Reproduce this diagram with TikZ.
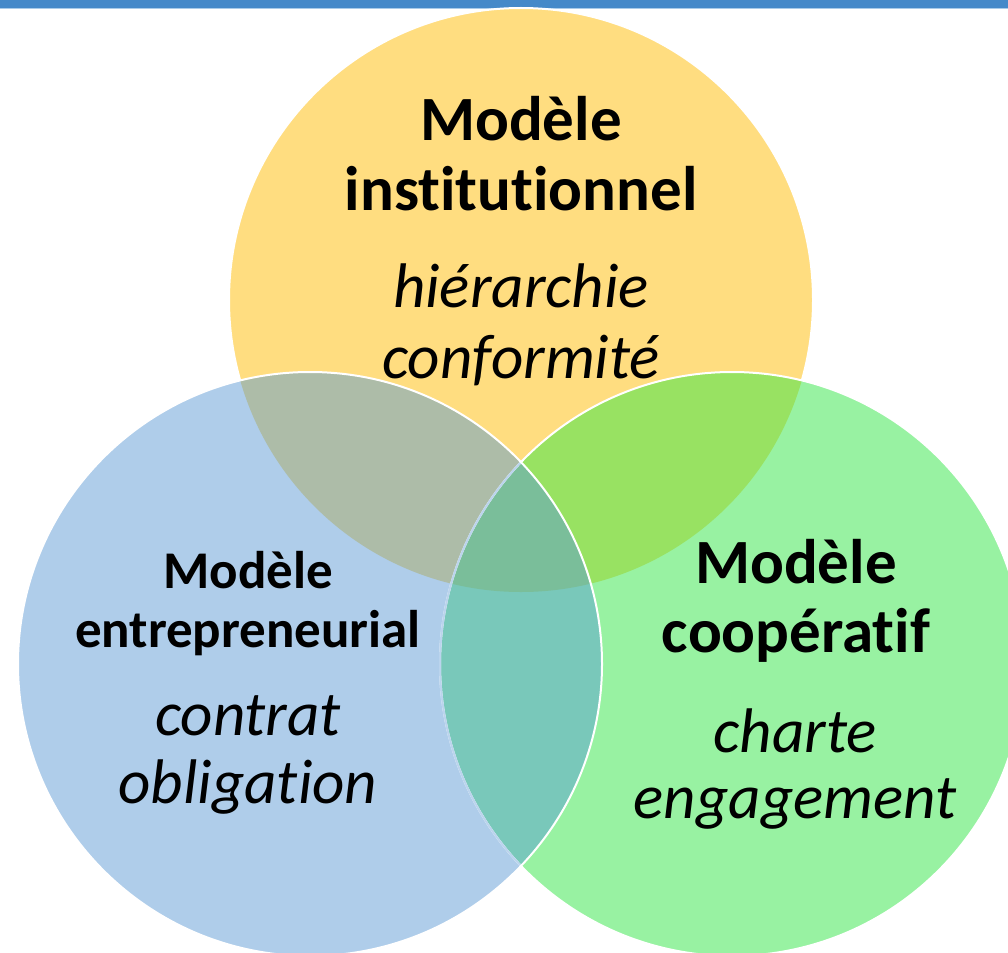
\documentclass[tikz,border=0pt]{standalone}
\usepackage{fontspec}
\setmainfont{Carlito}[Ligatures={NoCommon,NoContextual}]
\definecolor{barblue}{HTML}{4589C9}
\definecolor{barline}{HTML}{A9CBE9}
\definecolor{inst}{HTML}{FFDD80}
\definecolor{entr}{HTML}{AFCDEA}
\definecolor{coop}{HTML}{98F2A2}
\definecolor{instentr}{HTML}{ADBCA8}
\definecolor{instcoop}{HTML}{98E262}
\definecolor{entrcoop}{HTML}{79C8BA}
\definecolor{tous}{HTML}{7ABE9A}

\begin{document}
\begin{tikzpicture}[x=1pt,y=-1pt,
    titre/.style={anchor=base, inner sep=0pt, font=\bfseries\fontsize{63}{70}\selectfont},
    petittitre/.style={anchor=base, inner sep=0pt, font=\bfseries\fontsize{53}{60}\selectfont},
    motcle/.style={anchor=base, inner sep=0pt, font=\itshape\fontsize{63}{70}\selectfont},
    bord/.style={draw=white, line width=2pt}]
\useasboundingbox (0,0) rectangle (1008,952);

% bandeau du haut
\fill[barblue] (0,0) rectangle (1008,8);
\fill[barline] (0,8) rectangle (1008,9.5);

% les trois cercles
\fill[inst, bord] (521,300) circle[radius=292pt];
\fill[entr] (310,664) circle[radius=292pt];
\fill[coop] (732,664) circle[radius=292pt];

% intersections
\begin{scope}
  \clip (521,300) circle[radius=292pt];
  \fill[instentr] (310,664) circle[radius=292pt];
  \fill[instcoop] (732,664) circle[radius=292pt];
\end{scope}
\begin{scope}
  \clip (310,664) circle[radius=292pt];
  \fill[entrcoop] (732,664) circle[radius=292pt];
  \clip (732,664) circle[radius=292pt];
  \fill[tous] (521,300) circle[radius=292pt];
\end{scope}

% contours
\draw[bord] (732,664) circle[radius=292pt];
\begin{scope}
  \clip (310,664) circle[radius=292pt];
  \draw[entr!85!white, line width=2pt] (732,664) circle[radius=292pt];
\end{scope}
\draw[bord] (310,664) circle[radius=292pt];

% Modele institutionnel
\node[titre] (inst1) at (521,141) {Modèle};
\node[titre] (inst2) at (521,210) {institutionnel};
\node[motcle] (inst3) at (521,307) {hiérarchie};
\node[motcle] (inst4) at (521,378) {conformité};

% Modele entrepreneurial
\node[petittitre] (entr1) at (248,588) {Modèle};
\node[petittitre] (entr2) at (248,647) {entrepreneurial};
\node[motcle] (entr3) at (248,735) {contrat};
\node[motcle] (entr4) at (248,803) {obligation};

% Modele cooperatif
\node[titre] (coop1) at (796,583) {Modèle};
\node[titre] (coop2) at (796,652) {coopératif};
\node[motcle] (coop3) at (795,752) {charte};
\node[motcle] (coop4) at (795,818) {engagement};
\end{tikzpicture}
\end{document}
